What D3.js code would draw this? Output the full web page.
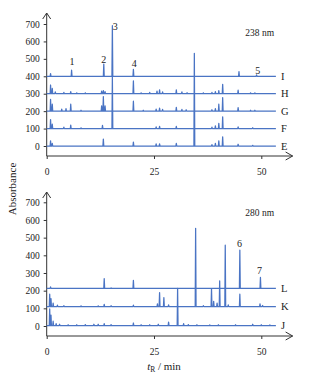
<!DOCTYPE html>
<html><head><meta charset="utf-8">
<script src="https://cdn.jsdelivr.net/npm/d3@7"></script>
<style>body{margin:0;background:#fff}svg{display:block}</style>
</head><body>
<script>
// ---------- data ----------
const yTicks = [0,100,200,300,400,500,600,700];
const xTicks = [0,25,50];
const topWavelength = "238 nm";
const botWavelength = "280 nm";
// top panel traces (238 nm): name, baseline, peaks [time, height]
const traceNamesTop = ["I","H","G","F","E"];
const baselinesTop = [400,300,200,100,0];
const peaksI = [[0.9,15],[5.8,35],[13.3,70],[15.3,290],[20.2,40],[44.8,27],[48.9,8]];
const peaksH = [[0.9,50],[1.3,30],[2,10],[4,8],[5.6,12],[7,5],[9,5],[12.8,15],[13.2,18],[13.6,12],[20.2,73],[22,5],[24,8],[25.7,15],[26.3,22],[27,10],[30.2,22],[31.5,10],[32.7,6],[36.5,5],[38.5,8],[39.3,12],[40.1,18],[41,54],[44.6,20],[47.5,5],[48.5,5]];
const peaksG = [[0.9,67],[1.3,40],[3.5,12],[4.5,15],[5.6,40],[8,5],[12.8,30],[13.2,84],[13.6,30],[20.2,57],[22.5,5],[25.5,12],[26.3,18],[27,10],[30.2,22],[31.5,10],[32.5,8],[38.5,8],[39.3,15],[40.1,40],[41,78],[44.6,20],[47.5,5],[48.5,5]];
const peaksF = [[0.9,52],[1.3,25],[4,8],[5.6,20],[8,4],[13,18],[15.3,300],[25.5,10],[26.3,12],[30.2,12],[38.5,8],[39.3,15],[40.1,30],[41,67],[44.6,10],[48,5]];
const peaksE = [[0.9,30],[1.3,15],[13.2,40],[20.2,22],[25.5,12],[26.3,12],[30.2,15],[34.4,532],[38.5,8],[39.3,15],[40.1,30],[41,53],[44.6,10],[48,4]];
// bottom panel traces (280 nm)
const traceNamesBot = ["L","K","J"];
const baselinesBot = [213,110,2];
const peaksL = [[0.9,8],[13.4,55],[15,3],[20.2,45],[45.0,217],[49.8,62]];
const peaksK = [[0.7,70],[1.0,45],[1.5,20],[2.5,8],[4,5],[8,4],[12,4],[13.4,12],[15,5],[20.2,8],[25.8,15],[26.3,79],[27.3,51],[28.4,10],[34.7,443],[36.5,5],[38.4,100],[38.9,30],[39.7,20],[40.3,145],[41.6,347],[42.3,10],[45.0,70],[49.7,15],[50.3,6]];
const peaksJ = [[0.7,95],[1.0,60],[1.5,25],[2.2,12],[3,8],[5,5],[7,5],[9,6],[11,8],[12,8],[13.4,12],[15,6],[20.2,15],[22,5],[24,5],[26,8],[28.4,20],[30.5,211],[31.9,12],[33,6],[35,5],[38,4],[40,5],[44,5],[48,8],[50,5],[52,4]];
// peak number labels: text, time, value
const labelsTop = [["1",5.9,465],["2",13.3,476],["3",16.0,666],["4",20.4,453],["5",49.2,413]];
const labelsBot = [["6",44.9,447],["7",49.6,294]];
const tStart = 0, tEnd = 53.4;

// ---------- drawing ----------
const W = 324, H = 381;
const svg = d3.select("body").append("svg").attr("width",W).attr("height",H);
const blue = "#4a74c4";
const font = "'Liberation Serif', 'Times New Roman', serif";

const x = d3.scaleLinear().domain([0,50]).range([46.7,261.3]);

function panel(yRange, axisY, arrowTop, traces, labels, wl, wlY){
  const y = d3.scaleLinear().domain([0,700]).range(yRange);
  const g = svg.append("g");
  const axisColor = "#333";
  g.append("line").attr("x1",x(0)).attr("x2",x(0)).attr("y1",axisY).attr("y2",arrowTop).attr("stroke",axisColor).attr("stroke-width",1);
  g.append("line").attr("x1",x(0)).attr("x2",x(57.3)).attr("y1",axisY).attr("y2",axisY).attr("stroke",axisColor).attr("stroke-width",1);
  g.append("path").attr("d",`M${x(0)-4},${arrowTop+6}L${x(0)},${arrowTop}L${x(0)+4},${arrowTop+6}`).attr("fill","none").attr("stroke",axisColor).attr("stroke-width",1);
  g.append("path").attr("d",`M${x(57.3)-7},${axisY-4}L${x(57.3)},${axisY}L${x(57.3)-7},${axisY+4}`).attr("fill","none").attr("stroke",axisColor).attr("stroke-width",1);
  const ya = g.append("g").attr("transform",`translate(${x(0)},0)`)
    .call(d3.axisLeft(y).tickValues(yTicks).tickSize(3).tickPadding(4));
  ya.select(".domain").remove();
  ya.selectAll("text").attr("font-family",font).attr("font-size",9.5).attr("fill","#222");
  ya.selectAll("line").attr("stroke",axisColor);
  const xa = g.append("g").attr("transform",`translate(0,${axisY})`)
    .call(d3.axisBottom(x).tickValues(xTicks).tickSize(3).tickPadding(9));
  xa.select(".domain").remove();
  xa.selectAll("text").attr("font-family",font).attr("font-size",9.5).attr("fill","#222");
  xa.selectAll("line").attr("stroke",axisColor);

  const line = d3.line().x(d=>x(d[0])).y(d=>y(d[1]));
  const w = 0.1;
  traces.forEach(tr=>{
    const pts = [[tStart,tr.base]];
    tr.peaks.slice().sort((a,b)=>a[0]-b[0]).forEach(p=>{
      pts.push([p[0]-w,tr.base],[p[0],tr.base+p[1]],[p[0]+w,tr.base]);
    });
    pts.push([tEnd,tr.base]);
    g.append("path").attr("d",line(pts)).attr("fill","none").attr("stroke",blue).attr("stroke-width",1.25).attr("stroke-linejoin","round");
    g.append("text").attr("x",x(54.6)).attr("y",y(tr.base)).attr("dy","0.35em")
      .attr("font-family",font).attr("font-size",10.5).attr("fill","#222").text(tr.name);
  });
  labels.forEach(l=>{
    g.append("text").attr("x",x(l[1])).attr("y",y(l[2])).attr("text-anchor","middle")
      .attr("font-family",font).attr("font-size",10).attr("fill","#222").text(l[0]);
  });
  g.append("text").attr("x",259.7).attr("y",wlY).attr("text-anchor","middle")
    .attr("font-family",font).attr("font-size",9.5).attr("fill","#222").text(wl);
}

const topPeaks = [peaksI,peaksH,peaksG,peaksF,peaksE];
panel([146,24],156,13,
  traceNamesTop.map((n,i)=>({name:n,base:baselinesTop[i],peaks:topPeaks[i]})),
  labelsTop, topWavelength, 36);
const botPeaks = [peaksL,peaksK,peaksJ];
panel([326,202.3],336,192,
  traceNamesBot.map((n,i)=>({name:n,base:baselinesBot[i],peaks:botPeaks[i]})),
  labelsBot, botWavelength, 215.5);

svg.append("text").attr("transform","translate(16,189) rotate(-90)").attr("text-anchor","middle")
  .attr("font-family",font).attr("font-size",11).attr("fill","#222").text("Absorbance");
const tt = svg.append("text").attr("x",164).attr("y",370).attr("text-anchor","middle")
  .attr("font-family",font).attr("font-size",11).attr("fill","#222");
tt.append("tspan").attr("font-style","italic").text("t");
tt.append("tspan").attr("font-size",7.5).attr("dy",2).text("R");
tt.append("tspan").attr("dy",-2).text(" / min");
</script>
</body></html>
